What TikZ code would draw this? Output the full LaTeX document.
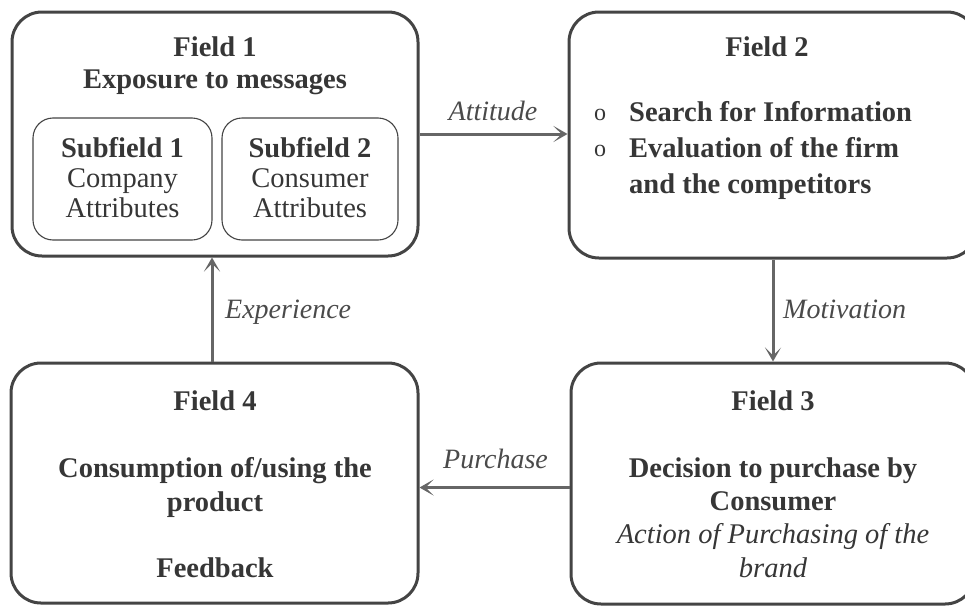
\documentclass[tikz,border=0pt]{standalone}
\usepackage{fontspec}
\setmainfont{Liberation Serif}
\usetikzlibrary{arrows.meta}

\definecolor{ink}{HTML}{363636}
\definecolor{frame}{HTML}{444444}
\definecolor{link}{HTML}{666666}
\definecolor{labelink}{HTML}{4A4A4A}

\tikzset{
  field/.style={draw=frame, line width=3pt, rounded corners=30pt, inner sep=0pt},
  subfield/.style={draw=frame, line width=1.1pt, rounded corners=20pt, inner sep=0pt},
  bold/.style={anchor=base, inner sep=0pt, text=ink,
    font=\fontsize{28.5}{33}\selectfont\bfseries},
  plain/.style={anchor=base, inner sep=0pt, text=ink,
    font=\fontsize{28.5}{33}\selectfont},
  bullet/.style={anchor=base, inner sep=0pt, text=ink,
    font=\fontsize{24}{33}\selectfont},
  slanted/.style={anchor=base, inner sep=0pt, text=ink,
    font=\fontsize{28.5}{33}\selectfont\itshape},
  flowlabel/.style={anchor=base, inner sep=0pt, text=labelink,
    font=\fontsize{28}{33}\selectfont\itshape},
  flow/.style={draw=link, line width=3pt,
    -{Stealth[length=14pt, width=16pt, inset=8pt]}},
}

\begin{document}
\begin{tikzpicture}[x=1pt, y=-1pt]
  \useasboundingbox (0,0) rectangle (965,605);
  \clip (0,0) rectangle (965,605);

  % the four fields
  \node[field, minimum width=406pt, minimum height=244pt] (f1) at (215,134) {};
  \node[field, minimum width=408pt, minimum height=246pt] (f2) at (773,135) {};
  \node[field, minimum width=404pt, minimum height=241pt] (f3) at (773,483.5) {};
  \node[field, minimum width=407pt, minimum height=240pt] (f4) at (214.5,483) {};

  % subfields inside field 1
  \node[subfield, minimum width=179pt, minimum height=122pt] (s1) at (122.5,179) {};
  \node[subfield, minimum width=176pt, minimum height=122pt] (s2) at (310,179) {};

  % field 1 text
  \node[bold] (f1a) at (215,56) {Field 1};
  \node[bold] (f1b) at (215,88) {Exposure to messages};
  \node[bold]  (s1a) at (122.5,157) {Subfield 1};
  \node[plain] (s1b) at (122.5,187) {Company};
  \node[plain] (s1c) at (122.5,217) {Attributes};
  \node[bold]  (s2a) at (310,157) {Subfield 2};
  \node[plain] (s2b) at (310,187) {Consumer};
  \node[plain] (s2c) at (310,217) {Attributes};

  % field 2 text
  \node[bold] (f2a) at (767,56) {Field 2};
  \node[bullet] (o1) at (600,120) {o};
  \node[bullet] (o2) at (600,156) {o};
  \node[bold, anchor=base west] (f2b) at (629,121) {Search for Information};
  \node[bold, anchor=base west] (f2c) at (629,157) {Evaluation of the firm};
  \node[bold, anchor=base west] (f2d) at (629,193) {and the competitors};

  % field 3 text
  \node[bold] (f3a) at (773,410) {Field 3};
  \node[bold] (f3b) at (773,477) {Decision to purchase by};
  \node[bold] (f3c) at (773,510) {Consumer};
  \node[slanted] (f3d) at (773,543) {Action of Purchasing of the};
  \node[slanted] (f3e) at (773,577) {brand};

  % field 4 text
  \node[bold] (f4a) at (215,410) {Field 4};
  \node[bold] (f4b) at (215,477) {Consumption of/using the};
  \node[bold] (f4c) at (215,511) {product};
  \node[bold] (f4d) at (215,577) {Feedback};

  % connectors between the fields
  \draw[flow] (f1.east) -- (f1.east -| f2.west);
  \draw[flow] (f2.south) -- (f3.north);
  \draw[flow] ([yshift=-4pt]f3.west) -- ([yshift=-4pt]f3.west -| f4.east);
  \draw[flow] ([xshift=-2.5pt]f4.north) -- ([xshift=-2.5pt]f4.north |- f1.south);

  % connector labels
  \node[flowlabel] (lat) at (493,120) {Attitude};
  \node[flowlabel, anchor=base west] (lmo) at (783,318) {Motivation};
  \node[flowlabel, anchor=base west] (lpu) at (443,468) {Purchase};
  \node[flowlabel, anchor=base west] (lex) at (225,318) {Experience};
\end{tikzpicture}
\end{document}
